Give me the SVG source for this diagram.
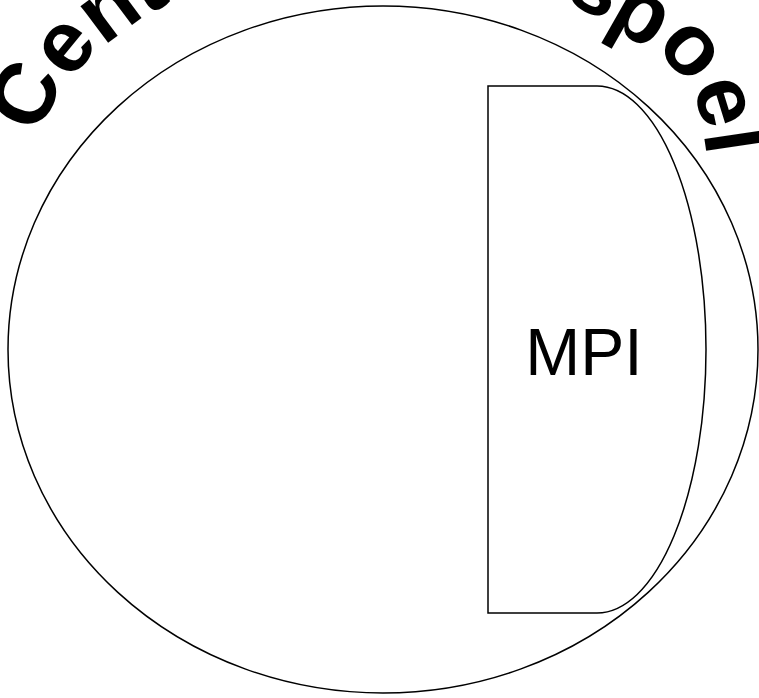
<svg xmlns="http://www.w3.org/2000/svg" width="759" height="698" viewBox="0 0 759 698">
  <style>
    .shape { fill: #ffffff; stroke: #000000; stroke-width: 1.5; }
    .label { font-family: "Liberation Sans", Arial, sans-serif; fill: #000000; }
    .arc-label { font-family: "Liberation Sans", Arial, sans-serif; font-weight: bold; font-size: 87px; fill: #000000; }
  </style>
  <defs>
    <path id="arcPath" d="M39.4,135.5 L51.5,107 C58.8,89.9 73.3,77 85,62.5 C95.5,49.5 110.7,41.1 124,31 C134.6,23 146.7,17 158,10 C175,-0.6 195,-25 213,-25 L507,-25 C532,-25 555.9,-4.6 578,7.1 C592.7,14.9 607.2,23.7 621,33 C635.5,42.8 653,48.3 666,60 C677.9,70.7 685.5,84.4 694,98 C700.4,108.2 701.1,118.1 703,130 L706,150"/>
  </defs>
  <rect width="759" height="698" fill="#ffffff"/>
  <g id="central-coil">
    <ellipse class="shape" cx="383" cy="349.5" rx="375" ry="343.5"/>
    <text class="arc-label"><textPath href="#arcPath" startOffset="0">Centrale Stuurspoel</textPath></text>
  </g>
  <g id="mpi">
    <path class="shape" d="M 488,86 L 597,86 A 109,263.5 0 0 1 706,349.5 A 109,263.5 0 0 1 597,613 L 488,613 Z"/>
    <text class="label" x="584" y="375" font-size="66" text-anchor="middle">MPI</text>
  </g>
  <g id="connectors"/>
</svg>
